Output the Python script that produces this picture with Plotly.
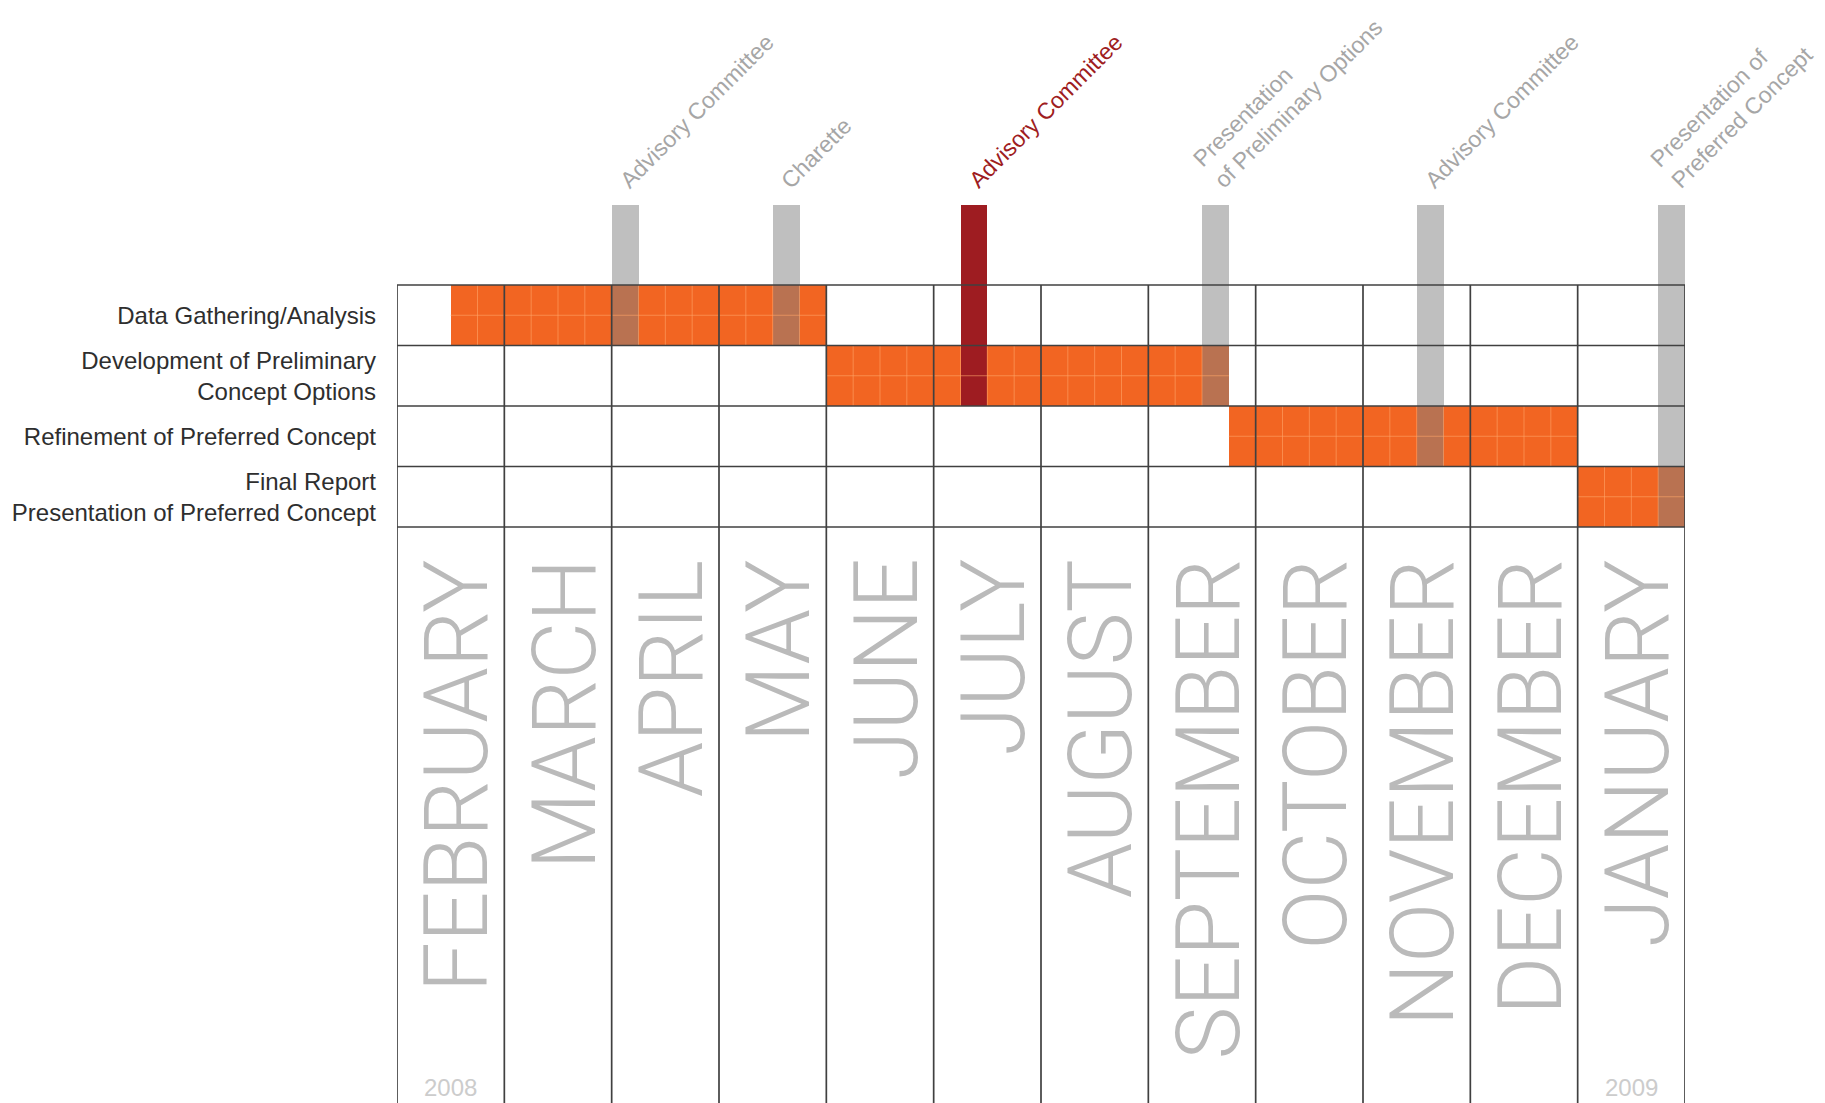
import plotly.graph_objects as go

# ---------------- data ----------------
months = ["FEBRUARY", "MARCH", "APRIL", "MAY", "JUNE", "JULY", "AUGUST",
          "SEPTEMBER", "OCTOBER", "NOVEMBER", "DECEMBER", "JANUARY"]
year_labels = ["2008", "2009"]
year_month_index = [0, 11]

tasks = ["Data Gathering/Analysis",
         "Development of Preliminary<br>Concept Options",
         "Refinement of Preferred Concept",
         "Final Report<br>Presentation of Preferred Concept"]
task_start = [0.5, 4.0, 7.75, 11.0]   # in months from start of February 2008
task_end = [4.0, 7.75, 11.0, 12.0]

milestones = ["Advisory Committee", "Charette", "Advisory Committee",
              "Presentation<br>of Preliminary Options", "Advisory Committee",
              "Presentation of<br>Preferred Concept"]
milestone_start = [2.0, 3.5, 5.25, 7.5, 9.5, 11.75]
milestone_rows = [1, 1, 2, 2, 3, 4]          # rows the marker reaches down through
milestone_highlight = [False, False, True, False, False, False]

# ---------------- style / layout constants ----------------
W, H = 1825, 1103
LEFT_PX, RIGHT_PX = 397, 1685
TOP_PX, ROW_PX = 285, 60.5
Y_TOP = -TOP_PX / ROW_PX
Y_BOT = (H - TOP_PX) / ROW_PX
MS_TOP = (205 - TOP_PX) / ROW_PX
WEEK = 0.25

ORANGE = "#f26522"
GRAY_MS = "rgba(128,128,128,0.5)"
RED_MS = "#9e1c21"
GRID = "#404040"

n_months = len(months)
n_rows = len(tasks)

fig = go.Figure()

# task bars
fig.add_trace(go.Bar(
    orientation="h",
    y=[i + 0.5 for i in range(n_rows)],
    x=[e - s for s, e in zip(task_start, task_end)],
    base=task_start,
    width=1.0,
    marker=dict(color=ORANGE, line=dict(width=0)),
    hoverinfo="skip", showlegend=False,
))

# light weekly grid inside task bars
gx, gy = [], []
for i, (s, e) in enumerate(zip(task_start, task_end)):
    k = s + WEEK
    while k < e - 1e-9:
        if abs(k - round(k)) > 1e-9:
            gx += [k, k, None]
            gy += [i, i + 1, None]
        k += WEEK
    gx += [s, e, None]
    gy += [i + 0.5, i + 0.5, None]
fig.add_trace(go.Scatter(x=gx, y=gy, mode="lines",
                         line=dict(color="rgba(255,165,105,0.6)", width=1),
                         hoverinfo="skip", showlegend=False))

# milestone bars
for hl in (False, True):
    xs = [s + WEEK / 2 for s, h in zip(milestone_start, milestone_highlight) if h == hl]
    rows = [r for r, h in zip(milestone_rows, milestone_highlight) if h == hl]
    fig.add_trace(go.Bar(
        x=xs, y=[r - MS_TOP for r in rows], base=[MS_TOP] * len(xs),
        width=WEEK,
        marker=dict(color=RED_MS if hl else GRAY_MS, line=dict(width=0)),
        hoverinfo="skip", showlegend=False,
    ))

# grid lines
shapes = []
for r in range(n_rows + 1):
    shapes.append(dict(type="line", xref="x", yref="y", x0=0, x1=n_months, y0=r, y1=r,
                       line=dict(color=GRID, width=1.7)))
for m in range(n_months + 1):
    shapes.append(dict(type="line", xref="x", yref="y", x0=m, x1=m, y0=0, y1=Y_BOT,
                       line=dict(color=GRID, width=1.7)))

annotations = []
# month labels
for m, name in enumerate(months):
    annotations.append(dict(
        x=m + 0.5, y=(557 - TOP_PX) / ROW_PX, xref="x", yref="y",
        text=name, showarrow=False, textangle=-90,
        xanchor="center", yanchor="top", xshift=6,
        font=dict(family="Roboto, Lato, Liberation Sans", size=89, color="#bababa", weight=300),
    ))
# years
for yl, mi in zip(year_labels, year_month_index):
    annotations.append(dict(
        x=mi + 0.5, y=(1087 - TOP_PX) / ROW_PX, xref="x", yref="y",
        text=yl, showarrow=False, xanchor="center", yanchor="middle",
        font=dict(family="Liberation Sans, Arial", size=24, color="#cccccc"),
    ))
# milestone labels
for lab, s, hl in zip(milestones, milestone_start, milestone_highlight):
    nlines = lab.count("<br>") + 1
    annotations.append(dict(
        x=s + WEEK / 2, y=MS_TOP, xref="x", yref="y",
        text=lab, showarrow=False, textangle=-45, align="left",
        xanchor="left", yanchor="bottom",
        xshift=-13 - 17 * (nlines - 1), yshift=9,
        font=dict(family="Liberation Sans, Arial", size=23,
                  color=RED_MS if hl else "#a6a6a6"),
    ))

fig.update_layout(
    width=W, height=H,
    margin=dict(l=LEFT_PX, r=W - RIGHT_PX, t=0, b=0),
    paper_bgcolor="white", plot_bgcolor="white",
    barmode="overlay", bargap=0,
    shapes=shapes, annotations=annotations,
    xaxis=dict(range=[0, n_months], showgrid=False, zeroline=False,
               showticklabels=False, showline=False, fixedrange=True),
    yaxis=dict(range=[Y_BOT, Y_TOP], showgrid=False, zeroline=False, showline=False,
               tickvals=[i + 0.5 for i in range(n_rows)], ticktext=tasks,
               ticks="", ticklabelstandoff=20,
               tickfont=dict(family="Liberation Sans, Arial", size=24, color="#2e2e2e"),
               fixedrange=True),
)

fig.write_html("out.html", config={"displayModeBar": False},
               post_script="document.body.style.margin='0';document.body.style.overflow='hidden';")
